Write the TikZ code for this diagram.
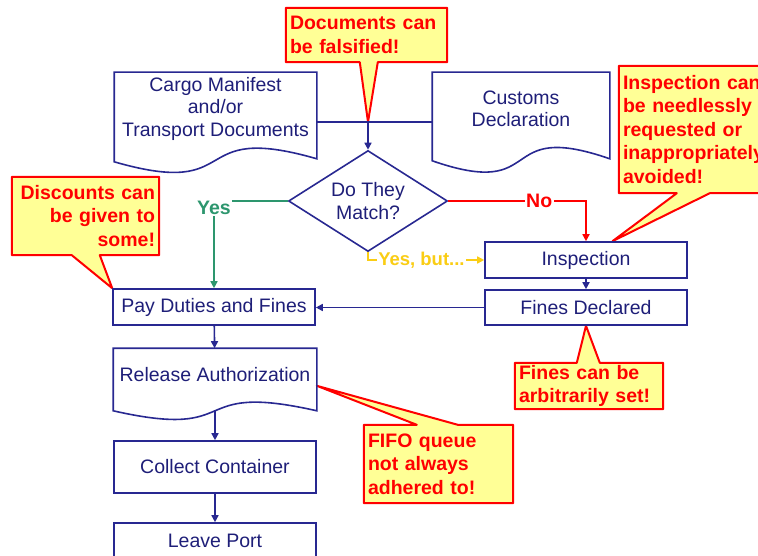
\documentclass[tikz,border=0pt]{standalone}
\usepackage{fontspec}
\setmainfont{Liberation Sans}
\usepackage{xcolor}
\usetikzlibrary{calc}
\usetikzlibrary{arrows.meta}
\usetikzlibrary{positioning}
\usetikzlibrary{shapes.geometric}

\definecolor{navy}{RGB}{40,40,145}
\definecolor{navytext}{RGB}{30,30,120}
\definecolor{yesgreen}{RGB}{45,150,110}
\definecolor{butyellow}{RGB}{250,205,20}
\definecolor{notered}{RGB}{255,0,0}
\definecolor{notefill}{RGB}{255,255,150}

\pgfdeclarelayer{bg}
\pgfsetlayers{bg,main}

\begin{document}
\begin{tikzpicture}[x=1pt,y=-1pt]
% 1 = 1 pixel of the sheet, y runs down
    \tikzset{
      flow/.style={draw=navy,line width=1.6pt,text=navytext,inner sep=0pt,
        font=\fontsize{19.5}{22.5}\selectfont,align=center},
      stepbox/.style={flow,minimum width=202pt},
      docbox/.style={flow,draw=none},
      docline/.style={draw=navy,line width=1.6pt},
      flowline/.style={draw=navy,line width=1.6pt},
      arr/.style={-{Triangle[width=7pt,length=7pt]}},
      lbl/.style={fill=white,inner sep=1.5pt,
        font=\fontsize{19.5}{22.5}\selectfont\bfseries},
      note/.style={inner xsep=4pt,inner ysep=0pt,text=notered,align=left,
        font=\fontsize{19.5}{23.5}\selectfont\bfseries},
      noteline/.style={draw=notered,fill=notefill,line width=2pt,line join=round},
    }

    % document shape round a node: node, left drop, right drop, swing
    \def\docwave#1#2#3#4{%
      \draw[docline] ($(#1.south west)+(0,#2)$) -- (#1.north west) -- (#1.north east)
        -- ($(#1.south east)+(0,#3)$)
        .. controls ($(#1.south west)!0.35!(#1.south east)+(0,#3-#4)$)
        and ($(#1.south west)!0.65!(#1.south east)+(0,#2+#4)$)
        .. ($(#1.south west)+(0,#2)$) -- cycle;
      \coordinate (#1-b) at ($(#1.south)+(0,{(#2+#3)/2})$);
    }
    % callout outlines: note, tail base from, tail base to, tip
    \def\tailbelow#1#2#3#4{%
      \begin{pgfonlayer}{bg}
      \draw[noteline] (#1.south west) -- (#1.north west) -- (#1.north east)
        -- (#1.south east) -- ($(#1.south west)+(#3,0)$) -- (#4)
        -- ($(#1.south west)+(#2,0)$) -- cycle;
      \end{pgfonlayer}
    }
    \def\tailabove#1#2#3#4{%
      \begin{pgfonlayer}{bg}
      \draw[noteline] (#1.north west) -- (#1.south west) -- (#1.south east)
        -- (#1.north east) -- ($(#1.north west)+(#3,0)$) -- (#4)
        -- ($(#1.north west)+(#2,0)$) -- cycle;
      \end{pgfonlayer}
    }

    \useasboundingbox (0,0) rectangle (758,556);

    % DOCUMENTS
    \node[docbox,minimum width=201pt,minimum height=71pt] (cargo) at (215.5,108.5)
        {Cargo Manifest\\and/or\\Transport Documents};
    \docwave{cargo}{17}{14}{38}
    \node[docbox,minimum width=176pt,minimum height=72pt] (customs) at (521,109)
        {Customs\\Declaration};
    \docwave{customs}{15}{13}{40}

    \coordinate (j) at (368,122);
    \draw[flowline] (cargo.east |- j) -- (customs.west |- j);

    % DECISION
    \node[flow,diamond,aspect=1.57,minimum width=159pt,minimum height=101pt]
        (match) at (368,201) {Do They\\Match?};
    \draw[flowline,arr] (j) -- (match.north);

    % RIGHT COLUMN
    \node[stepbox,minimum height=36pt] (insp) at (586,260) {Inspection};
    \node[stepbox,minimum height=35pt] (fines) at (586,307.5) {Fines Declared};

    % LEFT COLUMN
    \node[stepbox,minimum height=36pt] (pay) at (214,307) {Pay Duties and Fines};
    \node[docbox,minimum width=202pt,minimum height=51pt] (rel) at (215,374.5)
        {Release Authorization};
    \docwave{rel}{10}{10}{30}
    \node[stepbox,minimum height=52pt] (coll) at (215,467) {Collect Container};
    \node[stepbox,minimum height=36pt] (leave) at (215,541) {Leave Port};

    % BRANCHES
    \draw[yesgreen,line width=1.6pt,arr] (match.west) -| node[lbl,pos=0.5,yshift=-7pt,
        text=yesgreen] {Yes} (pay.north);
    \draw[notered,line width=1.6pt,arr] (match.east) -| node[lbl,pos=0.33,
        text=notered] {No} (insp.north);
    \draw[butyellow,line width=1.6pt,arr] (match.south) |- node[lbl,pos=0.73,
        text=butyellow,font=\fontsize{18.5}{22}\selectfont\bfseries] {Yes, but...}
        (insp.west);

    \draw[flowline,arr] (insp) -- (fines);
    \draw[flowline,arr] (fines.west) -- (fines.west -| pay.east);
    \draw[flowline,arr] (pay) -- (rel);
    \draw[flowline,arr] (rel-b) -- (coll);
    \draw[flowline,arr] (coll) -- (leave);

    % CALLOUTS
    \node[note,text width=153pt,minimum height=54pt] (fals) at (366.5,35)
        {Documents can\\be falsified!};
    \tailbelow{fals}{74}{92}{j}

    \node[note,align=right,text width=139pt,minimum height=78pt] (disc) at (85.5,216)
        {Discounts can\\be given to\\some!};
    \tailbelow{disc}{60}{88}{pay.north west}

    \node[note,text width=165pt,minimum height=127pt] (inspnote) at (705.5,129.5)
        {Inspection can\\be needlessly\\requested or\\inappropriately\\avoided!};
    \tailbelow{inspnote}{58}{91}{$(insp.north west)!0.63!(insp.north east)$}

    \node[note,text width=140pt,minimum height=46pt] (finenote) at (589,386)
        {Fines can be\\arbitrarily set!};
    \tailabove{finenote}{62}{85}{fines.south}

    \node[note,text width=141pt,minimum height=78pt] (fifo) at (438.5,464)
        {FIFO queue\\not always\\adhered to!};
    \tailabove{fifo}{53}{94}{$(rel.south east)+(0,-15)$}

\end{tikzpicture}
\end{document}
